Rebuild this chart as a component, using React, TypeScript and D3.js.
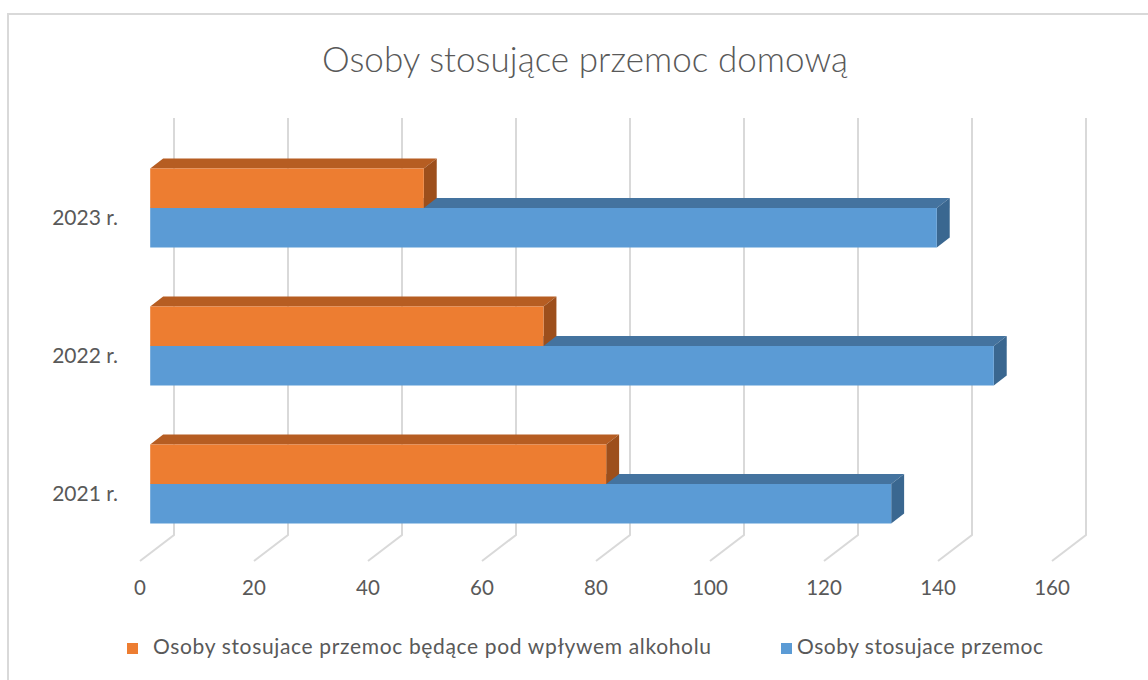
import React from 'react';
import * as d3 from 'd3';

const categories = ['2023 r.', '2022 r.', '2021 r.'];
const alcoholValues = [48, 69, 80];
const totalValues = [138, 148, 130];
const xTicks = [0, 20, 40, 60, 80, 100, 120, 140, 160];
const seriesNames = ['Osoby stosujace przemoc będące pod wpływem alkoholu', 'Osoby stosujace przemoc'];
const title = 'Osoby stosujące przemoc domową';

const W = 1148;
const H = 680;
const FONT = 'Lato, "Open Sans", sans-serif';

// depth vector from the floor front edge to the back wall
const DEPTH_X = 34;
const DEPTH_Y = -26;
const BAR_FRONT = 0.3;
const BAR_BACK = 0.68;

const orange = { front: '#ED7D31', top: '#B65D22', side: '#9D4F1C' };
const blue = { front: '#5B9BD5', top: '#44739F', side: '#3A6790' };

const App: React.FC = () => {
    // x on the front edge of the floor
    const xFloor = d3.scaleLinear().domain([0, 160]).range([140, 1052]);
    // y of bars on their front face
    const yBand = d3.scaleBand().domain(categories).range([139, 553]).padding(0);
    const barH = 39.5;

    const wallTop = 118;
    const wallBottom = 535;

    const fx = BAR_FRONT * DEPTH_X;
    const bdx = (BAR_BACK - BAR_FRONT) * DEPTH_X;
    const bdy = (BAR_BACK - BAR_FRONT) * DEPTH_Y;

    const bar3d = (v: number, y0: number, c: { front: string; top: string; side: string }, key: string) => {
        const x0 = xFloor(0) + fx;
        const x1 = xFloor(v) + fx;
        const y1 = y0 + barH;
        const top = `M${x0},${y0} L${x0 + bdx},${y0 + bdy} L${x1 + bdx},${y0 + bdy} L${x1},${y0} Z`;
        const side = `M${x1},${y0} L${x1 + bdx},${y0 + bdy} L${x1 + bdx},${y1 + bdy} L${x1},${y1} Z`;
        return (
            <g key={key}>
                <path d={top} fill={c.top} />
                <path d={side} fill={c.side} />
                <rect x={x0} y={y0} width={x1 - x0} height={barH} fill={c.front} />
            </g>
        );
    };

    return (
        <svg width={W} height={H} style={{ position: 'absolute', left: 0, top: 0, background: '#fff' }}>
            <rect x={8} y={14} width={W + 10} height={H + 10} fill="#fff" stroke="#d9d9d9" strokeWidth={2} />
            <text x={322} y={72} textLength={526} lengthAdjust="spacing" fontFamily={FONT}
                fontWeight={300} fontSize={35} fill="#595959">
                {title}
            </text>

            {/* gridlines on the back wall and floor */}
            {xTicks.map(t => {
                const xb = xFloor(t) + DEPTH_X;
                return (
                    <path
                        key={'g' + t}
                        d={`M${xb},${wallTop} L${xb},${wallBottom} L${xFloor(t)},${wallBottom - DEPTH_Y}`}
                        fill="none"
                        stroke="#d9d9d9"
                        strokeWidth={2}
                    />
                );
            })}

            {xTicks.map(t => (
                <text key={'t' + t} x={xFloor(t)} y={590} textAnchor="middle" dominantBaseline="middle"
                    fontFamily={FONT} fontSize={20.5} fill="#595959">
                    {t}
                </text>
            ))}

            {categories.map((c, i) => {
                const mid = yBand(c)! + yBand.bandwidth() / 2;
                return (
                    <g key={c}>
                        {bar3d(totalValues[i], mid, blue, 'b' + i)}
                        {bar3d(alcoholValues[i], mid - barH, orange, 'o' + i)}
                        <text x={118} y={mid + 12} textAnchor="end" dominantBaseline="middle"
                            fontFamily={FONT} fontSize={21} fill="#595959">
                            {c}
                        </text>
                    </g>
                );
            })}

            {/* legend */}
            <rect x={127} y={643} width={11} height={11} fill={orange.front} />
            <text x={153} y={649} textLength={558} lengthAdjust="spacing" dominantBaseline="middle"
                fontFamily={FONT} fontSize={21} fill="#595959">
                {seriesNames[0]}
            </text>
            <rect x={781} y={643} width={11} height={11} fill={blue.front} />
            <text x={797} y={649} textLength={246} lengthAdjust="spacing" dominantBaseline="middle"
                fontFamily={FONT} fontSize={21} fill="#595959">
                {seriesNames[1]}
            </text>
        </svg>
    );
};

export default App;
